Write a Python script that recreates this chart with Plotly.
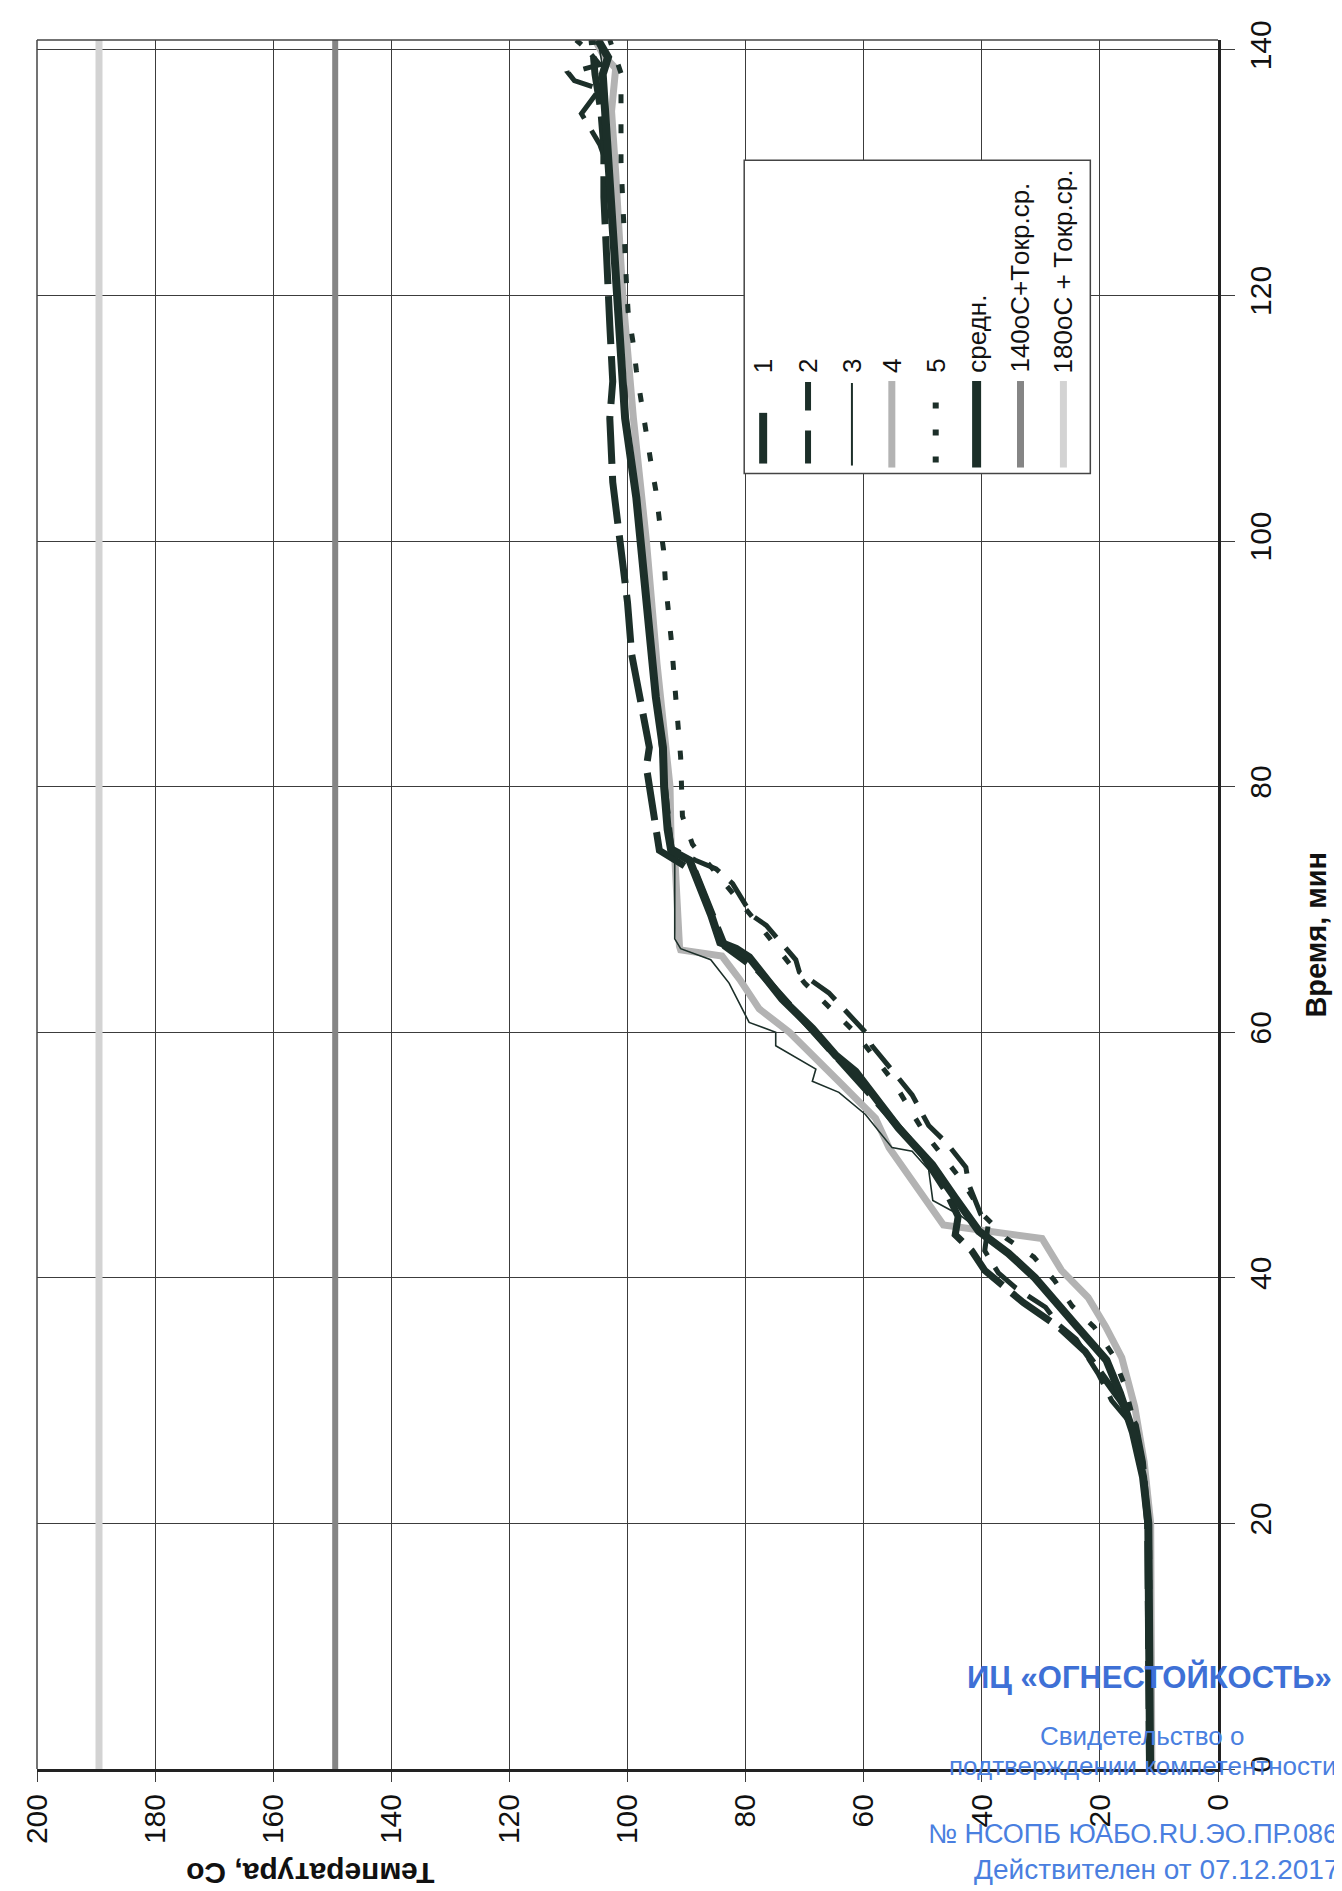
import plotly.graph_objects as go

# ---------------- data (time, min -> temperature, C) ----------------
t1 = [0, 10, 20, 25, 28, 30, 32, 34, 36, 38, 40.6, 42.2, 43.5, 45, 47, 50, 55, 60, 65, 67, 70, 73, 74.8, 76.2, 81.6, 83.2, 86.2, 90.8, 95, 101, 104.8, 110, 113, 117.6, 122.8, 128, 132, 135, 138, 140.8]
T1 = [11.6, 11.7, 11.9, 12.8, 14, 16.5, 19.5, 22.5, 27, 33, 39.5, 41.7, 44.5, 44, 46, 50, 59, 68.3, 77.8, 83.5, 86, 88.5, 94.6, 95.1, 96.8, 96.3, 97.6, 99.3, 100, 101.7, 102.5, 103, 102.5, 103, 103.6, 104, 104, 104.5, 105.5, 106]

t2 = [0, 10, 20, 25, 28, 30, 32.2, 35, 36.2, 37.6, 39.2, 40.4, 42.2, 44.4, 45.2, 47.6, 49, 51, 52.4, 54.9, 56.2, 58.9, 60, 62.7, 63.2, 64.9, 65.9, 68.7, 69.5, 72.1, 73.3, 74, 75, 80, 90, 100, 110, 120, 130, 132.3, 134.8, 136.8, 137.5, 138.1, 138.8, 140, 140.8]
T2 = [11.5, 11.6, 11.8, 13, 14.5, 18, 20.3, 24, 27, 29.2, 34.3, 37.2, 39.5, 38.9, 40.2, 42.2, 42.7, 46, 49, 51.8, 54, 58.6, 59.7, 64.7, 65.9, 70.9, 71.5, 76.5, 78.9, 82.2, 85, 88.5, 92.5, 93.6, 95.7, 97.7, 100.3, 101.8, 103, 104.7, 107.8, 104.7, 109, 110, 104.7, 106.8, 108.7]

t3 = [0, 10, 20, 27, 30, 34, 36, 38, 40, 43, 45.1, 46.3, 48.8, 50.3, 50.6, 53.3, 55.1, 56, 57, 58.9, 60, 60.8, 64, 65.9, 66.8, 67.6, 74.3, 75, 80, 90, 100, 110, 120, 130, 135, 138, 140.8]
T3 = [11.5, 11.6, 11.8, 14, 16, 20, 24, 28, 31.5, 38, 43.7, 48.3, 49, 51.8, 55.2, 59.7, 64.2, 68.7, 68.1, 74.9, 74.9, 79.4, 82.8, 85.9, 91, 92, 92, 92.6, 93.5, 95.8, 97.8, 100.2, 101.8, 103, 103.5, 104, 105]

t4 = [0, 10, 20, 25, 29.5, 33.5, 36, 38.4, 40.6, 43.2, 44.3, 50.6, 53, 55.7, 57.8, 60, 61.9, 64.3, 66.2, 66.7, 67, 74.3, 75, 80, 90, 100, 110, 120, 130, 135, 138.5, 139.5, 140.8]
T4 = [11.2, 11.3, 11.4, 12.5, 14.1, 16.3, 19, 22, 26.5, 29.8, 46.5, 55.7, 58, 63.6, 68.1, 72.6, 77.7, 81, 84, 91, 91.2, 92, 92.6, 92.8, 95, 96.8, 99, 100.8, 102, 102.7, 102, 104, 105.5]

t5 = [0, 10, 20, 27, 31.5, 33.8, 36, 37.7, 39.8, 41.7, 43.2, 45, 48, 52, 56, 60, 64, 68, 72, 73.6, 75.3, 77.6, 80, 82.4, 87.1, 92, 96.8, 99.3, 101.7, 104.1, 106.6, 109, 111.4, 113.9, 116.3, 118.7, 121.2, 126, 130.9, 135.7, 138.1, 140.8]
T5 = [11.4, 11.5, 11.6, 13.5, 16, 17.9, 21, 24.7, 27.7, 31.2, 35.8, 39.5, 43.5, 50, 55, 61.5, 70, 76.5, 83.5, 86.1, 89, 90.7, 90.9, 91, 91.8, 92.6, 93.6, 93.9, 94.6, 95.2, 96.1, 96.9, 97.5, 98.5, 99.1, 99.9, 100.2, 100.7, 101.1, 101.1, 101.1, 103]

t_mean = [0, 5, 10, 17, 20, 23.8, 27.4, 30.6, 33.3, 36.2, 38, 40, 42, 43.8, 46.5, 49.2, 52.2, 53.8, 54.6, 56.8, 58.1, 60.3, 62.7, 64.9, 66.1, 66.8, 67.3, 69.5, 71.5, 74, 74.8, 76.5, 80, 83.2, 87.3, 94, 100, 103.5, 110, 113, 120, 126.4, 131.8, 135.6, 138, 139.4, 140.8]
T_mean = [11.5, 11.5, 11.5, 11.8, 11.8, 12.7, 14.4, 16.6, 18.9, 24.2, 27.6, 31, 35.5, 40.5, 44.5, 48.4, 54.1, 56.5, 58, 61.4, 64.7, 68.7, 73.8, 77.7, 79.4, 81.6, 84.3, 85.8, 87.3, 89.5, 92.6, 93.2, 93.8, 94.0, 95.2, 96.6, 97.7, 98.5, 100.4, 100.8, 101.9, 102.8, 103.3, 103.9, 104.2, 103.3, 105]

t_limit = [0, 140.8]
T_140 = [149.5, 149.5]
T_180 = [189.5, 189.5]

x_ticks = [0, 20, 40, 60, 80, 100, 120, 140, 160, 180, 200]
y_ticks = [0, 20, 40, 60, 80, 100, 120, 140]

legend_names = ["1", "2", "3", "4", "5", "средн.", "140oC+Tокр.ср.", "180oC + Tокр.ср."]

DARK = "#1c2f29"
GRAY4 = "#b3b3b3"
G140 = "#858585"
G180 = "#d3d3d3"
BLUE = "#4a7fe0"
FONT = "Liberation Sans, Arial, sans-serif"

# plot area in page pixels
PL, PR, PT, PB = 26, 1210, 22, 1761
def px(xp):
    return (xp - PL) / (PR - PL)
def py(yp):
    return (PB - yp) / (PB - PT)

fig = go.Figure()

def add(T, t, color, width, dash="solid"):
    fig.add_trace(go.Scatter(x=T, y=t, mode="lines", showlegend=False, hoverinfo="skip",
                             line=dict(color=color, width=width, dash=dash)))

add(T_180, t_limit, G180, 7)
add(T_140, t_limit, G140, 6)
add(T4, t4, GRAY4, 7)
add(T3, t3, DARK, 1.6)
add(T2, t2, DARK, 5, "30px,14px")
add(T1, t1, DARK, 7, "48px,12px")
add(T5, t5, DARK, 5, "9px,21px")
add(T_mean, t_mean, DARK, 8)

fig.update_layout(
    width=1342, height=1891,
    margin=dict(l=PL, r=1342 - PR, t=PT, b=1891 - PB),
    paper_bgcolor="white", plot_bgcolor="white",
    font=dict(family=FONT, color="#111"),
    xaxis=dict(range=[200, 0], tickvals=x_ticks, ticktext=[str(v) for v in x_ticks],
               tickangle=-90, tickfont=dict(size=30, color="#111"),
               showgrid=True, gridcolor="#3c3c3c", gridwidth=1,
               ticks="outside", ticklen=10, tickcolor="#3c3c3c", tickwidth=1,
               showline=True, linecolor="#222", linewidth=3, zeroline=False,
               side="bottom"),
    yaxis=dict(range=[0, 140.8], tickvals=y_ticks, ticktext=[str(v) for v in y_ticks],
               tickangle=-90, tickfont=dict(size=30, color="#111"),
               showgrid=True, gridcolor="#3c3c3c", gridwidth=1,
               ticks="outside", ticklen=14, tickcolor="#3c3c3c", tickwidth=1,
               showline=True, linecolor="#222", linewidth=3, zeroline=False,
               side="right"),
)

shapes = []
annotations = []
# top and left frame lines
shapes.append(dict(type="line", xref="paper", yref="paper", x0=0, x1=1, y0=1, y1=1,
                   line=dict(color="#444", width=1.5)))
shapes.append(dict(type="line", xref="paper", yref="paper", x0=0, x1=0, y0=0, y1=1,
                   line=dict(color="#444", width=1.5)))

# legend box (rotated legend, drawn by hand)
shapes.append(dict(type="rect", xref="paper", yref="paper", x0=px(735), x1=px(1082),
                   y0=py(458), y1=py(143), fillcolor="white", line=dict(color="#444", width=1.5),
                   layer="above"))
col_x = [754, 799, 843, 883, 927, 968, 1012, 1055]
samples = [
    (448, 397, DARK, 8, "solid"),
    (448, 366, DARK, 6, "33px,20px"),
    (450, 367, DARK, 2, "solid"),
    (452, 365, GRAY4, 7, "solid"),
    (447, 383, DARK, 6, "6px,21px"),
    (452, 365, DARK, 9, "solid"),
    (452, 365, G140, 7, "solid"),
    (452, 365, G180, 7, "solid"),
]
for cx, (y0, y1, c, w, d), name in zip(col_x, samples, legend_names):
    shapes.append(dict(type="line", xref="paper", yref="paper", x0=px(cx), x1=px(cx),
                       y0=py(y0), y1=py(y1), line=dict(color=c, width=w, dash=d), layer="above"))
    annotations.append(dict(xref="paper", yref="paper", x=px(cx), y=py(359), text=name,
                            showarrow=False, textangle=-90, xanchor="center", yanchor="bottom",
                            font=dict(size=26, color="#111", family=FONT)))

# axis titles
annotations.append(dict(xref="paper", yref="paper", x=px(1308), y=py(922), text="<b>Время, мин</b>",
                        showarrow=False, textangle=-90, xanchor="center", yanchor="middle",
                        font=dict(size=29, color="#111", family=FONT)))
annotations.append(dict(xref="paper", yref="paper", x=px(300), y=py(1866), text="<b>Температура, Co</b>",
                        showarrow=False, textangle=180, xanchor="center", yanchor="middle",
                        font=dict(size=30, color="#111", family=FONT)))

# stamp (right-anchored so it stays inside the page)
stamp = [
    ("<b>ИЦ «ОГНЕСТОЙКОСТЬ»</b>", 1326, 1668, 31, "#3e70d6", "right"),
    ("Свидетельство о", 1134, 1728, 26, BLUE, "center"),
    ("подтверждении компетентности", 1330, 1758, 26, BLUE, "right"),
    ("№ НСОПБ ЮАБО.RU.ЭО.ПР.086", 1332, 1826, 27, BLUE, "right"),
    ("Действителен от 07.12.2017", 1334, 1862, 28, BLUE, "right"),
]
for txt, sx, sy, fs, col, anc in stamp:
    annotations.append(dict(xref="paper", yref="paper", x=px(sx), y=py(sy), text=txt,
                            showarrow=False, xanchor=anc, yanchor="middle",
                            font=dict(size=fs, color=col, family=FONT)))

fig.update_layout(shapes=shapes, annotations=annotations)
fig.write_html("out.html")
